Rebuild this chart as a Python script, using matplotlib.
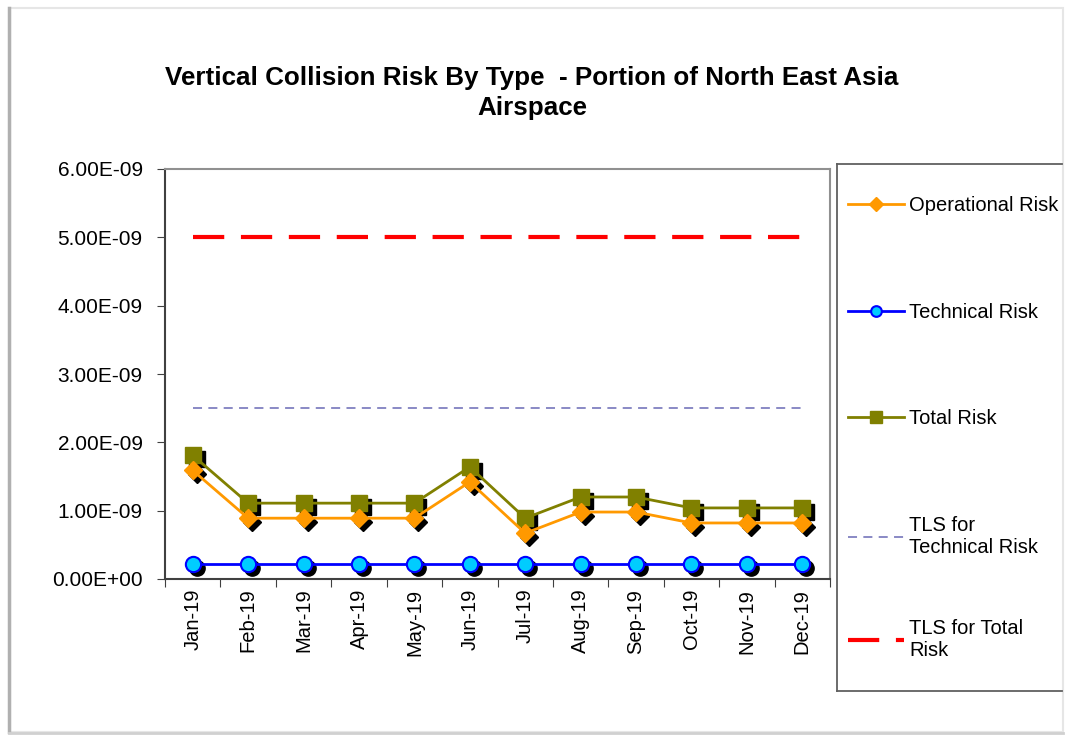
import numpy as np
import matplotlib
matplotlib.use("Agg")
import matplotlib.pyplot as plt
from matplotlib.transforms import offset_copy
from matplotlib.lines import Line2D
from matplotlib.patches import Rectangle

plt.rcParams['font.family'] = ['Liberation Sans', 'DejaVu Sans']

months = ['Jan-19', 'Feb-19', 'Mar-19', 'Apr-19', 'May-19', 'Jun-19',
          'Jul-19', 'Aug-19', 'Sep-19', 'Oct-19', 'Nov-19', 'Dec-19']
operational = np.array([1.59, 0.89, 0.89, 0.89, 0.89, 1.42,
                        0.67, 0.98, 0.98, 0.82, 0.82, 0.82]) * 1e-9
technical = np.array([0.22, 0.22, 0.22, 0.22, 0.22, 0.22,
                      0.22, 0.22, 0.22, 0.22, 0.22, 0.22]) * 1e-9
total = np.array([1.81, 1.11, 1.11, 1.11, 1.11, 1.64,
                  0.89, 1.20, 1.20, 1.04, 1.04, 1.04]) * 1e-9
tls_technical = 2.5e-9
tls_total = 5.0e-9

W, H = 1069, 735
fig = plt.figure(figsize=(W / 100, H / 100), dpi=100)

# page frame with a soft shadow on the left and bottom
fig.patches.append(Rectangle((10 / W, 3 / H), 1053 / W, 724 / H, transform=fig.transFigure,
                             fill=False, edgecolor='#e6e6e6', linewidth=1.5))
fig.add_artist(Line2D([9 / W, 9 / W], [3 / H, 727 / H], transform=fig.transFigure,
                      color='#b0b0b0', linewidth=2.5))
fig.add_artist(Line2D([9 / W, 1063 / W], [2 / H, 2 / H], transform=fig.transFigure,
                      color='#d0d0d0', linewidth=2))

ax = fig.add_axes([165 / W, 1 - 579 / H, (830 - 165) / W, (579 - 169) / H])
x = np.arange(len(months))

# black drop shadows under the markers
shadow = offset_copy(ax.transData, fig=fig, x=4, y=-4, units='dots')
ax.plot(x, operational, linestyle='none', marker='D', markersize=9.5, color='black',
        transform=shadow, zorder=2)
ax.plot(x, technical, linestyle='none', marker='o', markersize=11, color='black',
        transform=shadow, zorder=2)
ax.plot(x, total, linestyle='none', marker='s', markersize=12, color='black',
        transform=shadow, zorder=2)

l_op, = ax.plot(x, operational, color='#FF9900', linewidth=2, marker='D', markersize=9.5,
                markerfacecolor='#FF9900', markeredgecolor='#FF9900', zorder=4,
                label='Operational Risk')
l_tech, = ax.plot(x, technical, color='#0000FF', linewidth=2, marker='o', markersize=11,
                  markerfacecolor='#00CCFF', markeredgecolor='#0000FF', markeredgewidth=1.5,
                  zorder=4, label='Technical Risk')
l_tot, = ax.plot(x, total, color='#808000', linewidth=2, marker='s', markersize=12,
                 markerfacecolor='#808000', markeredgecolor='#808000', zorder=3,
                 label='Total Risk')
l_tls_t, = ax.plot(x, np.full(len(x), tls_technical), color='#8080C0', linewidth=1.3,
                   dashes=(5, 3.5), zorder=1, label='TLS for\nTechnical Risk')
l_tls, = ax.plot(x, np.full(len(x), tls_total), color='#FF0000', linewidth=3,
                 dashes=(7.5, 4), zorder=1, label='TLS for Total\nRisk')

ax.set_xlim(-0.5, len(months) - 0.5)
ax.set_ylim(0, 6e-9)
ax.set_yticks(np.arange(0, 6.01e-9, 1e-9))
ax.set_yticklabels(['0.00E+00', '1.00E-09', '2.00E-09', '3.00E-09',
                    '4.00E-09', '5.00E-09', '6.00E-09'], fontsize=15)
ax.set_xticks(np.arange(-0.5, len(months), 1.0))
ax.set_xticklabels([])
ax.set_xticks(x, minor=True)
ax.set_xticklabels(months, minor=True, rotation=90, fontsize=14.5)
ax.tick_params(axis='x', which='major', length=6, color='#404040')
ax.tick_params(axis='x', which='minor', length=0, pad=7)
ax.tick_params(axis='y', length=6, color='#404040', pad=10)

ax.spines['left'].set_color('#404040')
ax.spines['bottom'].set_color('#404040')
ax.spines['top'].set_color('#909090')
ax.spines['right'].set_color('#909090')
for s in ax.spines.values():
    s.set_linewidth(1.5)

fig.text(532 / W, 1 - 93 / H, 'Vertical Collision Risk By Type  - Portion of North East Asia\nAirspace',
         ha='center', va='center', fontsize=18.7, fontweight='bold', linespacing=1.33)

# legend box (left, top and bottom edges)
lx0, lx1, ly0, ly1 = 837 / W, 1062 / W, 1 - 691 / H, 1 - 164 / H
for xs, ys in [([lx0, lx0], [ly0, ly1]), ([lx0, lx1], [ly1, ly1]), ([lx0, lx1], [ly0, ly0])]:
    fig.add_artist(Line2D(xs, ys, transform=fig.transFigure, color='#606060', linewidth=1.3))

leg_kw = dict(frameon=False, fontsize=14.5, handlelength=2.8, handletextpad=0.25,
              markerscale=0.7, borderaxespad=0, borderpad=0)
fig.legend(handles=[l_op, l_tech, l_tot, l_tls_t], loc='upper left',
           bbox_to_anchor=(848 / W, 1 - 196 / H), labelspacing=4.35, **leg_kw)
fig.legend(handles=[l_tls], loc='center left',
           bbox_to_anchor=(848 / W, 1 - 640 / H), **leg_kw)

fig.savefig('out.png', dpi=100)
